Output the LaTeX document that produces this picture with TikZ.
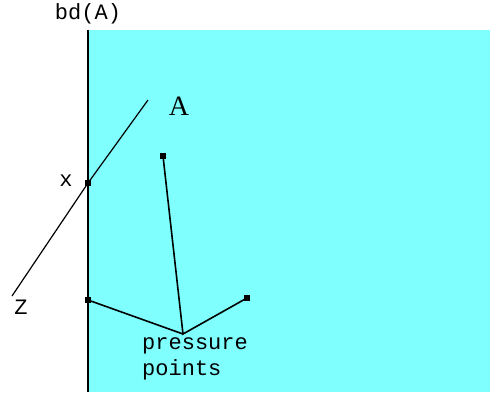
\documentclass[tikz,border=0pt]{standalone}
\usepackage{fontspec}
\setmonofont{Liberation Mono}
\newfontfamily\serifA{Liberation Serif}
\definecolor{aqua}{RGB}{128,255,255}
\begin{document}
\begin{tikzpicture}[x=1pt,y=-1pt,
  lbl/.style={font=\ttfamily\fontsize{22}{24}\selectfont, inner sep=0pt},
  dot/.style={fill=black, minimum size=5.5pt, inner sep=0pt, draw=none, rectangle},
  seg/.style={line width=1.6pt}]
\useasboundingbox (0,0) rectangle (490,392);
\fill[aqua] (88,30) rectangle (490,392);
\coordinate (btop) at (88,30);
\coordinate (bbot) at (88,392);
\draw[line width=2pt] (btop) -- (bbot);
\node[lbl] (bd) at (88,14) {bd(A)};
% line Z -- A
\coordinate (zend) at (12,296);
\coordinate (aend) at (148,100);
\node[dot] (xp) at (88,183) {};
\draw[line width=1.2pt] (zend) -- (xp.center) -- (aend);
\node[font=\serifA\fontsize{28}{30}\selectfont, inner sep=0pt] (A) at (179,106) {A};
\node[lbl] (xl) at (66,181) {x};
\node[lbl] (Zl) at (21,307) {Z};
% pressure points
\node[dot] (p1) at (163,156) {};
\node[dot] (p2) at (88,300) {};
\node[dot] (p3) at (247,298) {};
\coordinate (v) at (183,334);
\draw[seg] (p1.center) -- (v) -- (p3.center);
\draw[seg] (p2.center) -- (v);
\node[lbl, anchor=north west] (pr) at (142,337) {pressure};
\node[lbl, anchor=north west] (pt) at (142,359) {points};
\end{tikzpicture}
\end{document}
